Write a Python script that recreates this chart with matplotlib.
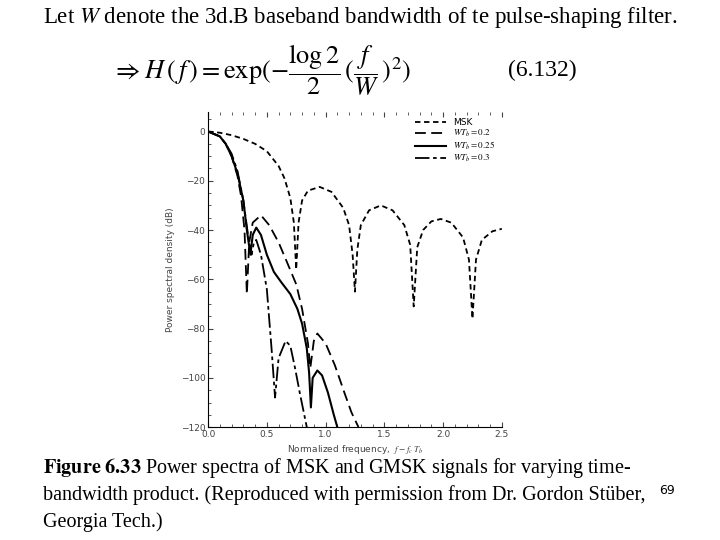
import matplotlib
matplotlib.use("Agg")
import matplotlib.pyplot as plt

plt.rcParams["mathtext.fontset"] = "stix"

# MSK
msk_x = [0.0, 0.1, 0.2, 0.3, 0.4, 0.5, 0.6, 0.65, 0.7, 0.73, 0.75, 0.77, 0.8, 0.85, 0.95, 1.05, 1.15, 1.2, 1.23, 1.25, 1.27,
         1.3, 1.37, 1.47, 1.57, 1.67, 1.72, 1.75, 1.78, 1.83, 1.9, 1.98, 2.07, 2.17, 2.22, 2.25, 2.28, 2.33, 2.42, 2.5]
msk_y = [0, -0.5, -1.5, -3, -5, -8, -14, -19, -27, -37, -56, -37, -28, -24, -22.5, -24.5, -31, -38, -50, -65, -48,
         -38, -32, -30, -32, -38, -46, -71, -47, -40, -36.5, -35.5, -37, -43, -52, -76, -52, -44, -40.5, -39.5]
# WT = 0.2
w02_x = [0.0, 0.1, 0.15, 0.2, 0.25, 0.28, 0.31, 0.33, 0.35, 0.38, 0.45, 0.52, 0.6, 0.68, 0.75, 0.8, 0.85, 0.87, 0.9, 0.93,
         1.0, 1.08, 1.16, 1.22, 1.28]
w02_y = [0, -2, -5, -10, -18, -26, -40, -66, -45, -37, -34, -38, -45, -54, -62, -72, -86, -96, -85, -82,
         -86, -95, -106, -114, -120]
# WT = 0.25
w025_x = [0.0, 0.1, 0.15, 0.2, 0.25, 0.3, 0.33, 0.36, 0.38, 0.41, 0.45, 0.5, 0.56, 0.62, 0.7, 0.76, 0.8, 0.84, 0.86, 0.875,
          0.89, 0.93, 0.97, 1.02, 1.07, 1.1]
w025_y = [0, -2, -5, -10, -17, -28, -40, -50, -42, -39, -42, -50, -57, -61, -66, -72, -78, -88, -98, -112,
          -100, -97, -99, -106, -115, -120]
# WT = 0.3
w03_x = [0.0, 0.1, 0.15, 0.2, 0.25, 0.3, 0.34, 0.37, 0.39, 0.41, 0.45, 0.5, 0.54, 0.57, 0.6, 0.66, 0.7, 0.74, 0.78, 0.84]
w03_y = [0, -2, -5, -9, -16, -28, -42, -50, -45, -44, -50, -64, -88, -108, -92, -85, -87, -96, -106, -120]

xticks = [0.0, 0.5, 1.0, 1.5, 2.0, 2.5]
yticks = [0, -20, -40, -60, -80, -100, -120]

fig = plt.figure(figsize=(7.2, 5.4), dpi=100)
serif = "Liberation Serif"

fig.text(0.5, 0.99, "Let $W$ denote the 3d.B baseband bandwidth of te pulse-shaping filter.",
         ha="center", va="top", fontsize=16.5, family=serif)
fig.text(0.155, 0.87, r"$\Rightarrow H\,(\,f\,) = \exp(-\dfrac{\log 2}{2}\,(\dfrac{f}{W}\,)^2)$",
         ha="left", va="center", fontsize=19, family=serif)
fig.text(0.705, 0.87, "(6.132)", ha="left", va="center", fontsize=17, family=serif)

ax = fig.add_axes([0.289, 0.209, 0.408, 0.584])
ax.plot(msk_x, msk_y, color="black", lw=1.3, ls=(0, (3, 2)), label="MSK")
ax.plot(w02_x, w02_y, color="black", lw=1.3, ls=(0, (6, 3)), label=r"$WT_b = 0.2$")
ax.plot(w025_x, w025_y, color="black", lw=1.5, ls="-", label=r"$WT_b = 0.25$")
ax.plot(w03_x, w03_y, color="black", lw=1.3, ls=(0, (8, 2, 2, 2)), label=r"$WT_b = 0.3$")
ax.set_xlim(0, 2.5)
ax.set_ylim(-120, 8)
ax.set_xticks(xticks)
ax.set_yticks(yticks)
ax.minorticks_on()
ax.tick_params(which="both", direction="in", top=True, labelsize=6.5, colors="#444444", pad=2)
for s in ["top", "right"]:
    ax.spines[s].set_visible(False)
ax.set_xlabel(r"Normalized frequency,  $f - f_c\;T_b$", fontsize=6.5, color="#444444", labelpad=3)
ax.set_ylabel("Power spectral density (dB)", fontsize=6.5, color="#444444")
ax.legend(loc="upper right", fontsize=6.5, frameon=False, handlelength=3.5,
          labelspacing=0.1, borderaxespad=0.3)

fig.text(0.06, 0.133, r"$\mathbf{Figure\ 6.33}$ Power spectra of MSK and GMSK signals for varying time-",
         ha="left", va="center", fontsize=14.5, family=serif)
fig.text(0.06, 0.083, "bandwidth product. (Reproduced with permission from Dr. Gordon Stüber,",
         ha="left", va="center", fontsize=14.5, family=serif)
fig.text(0.06, 0.033, "Georgia Tech.)", ha="left", va="center", fontsize=14.5, family=serif)
fig.text(0.915, 0.092, "69", ha="left", va="center", fontsize=9)

fig.savefig("out.png", dpi=100)
